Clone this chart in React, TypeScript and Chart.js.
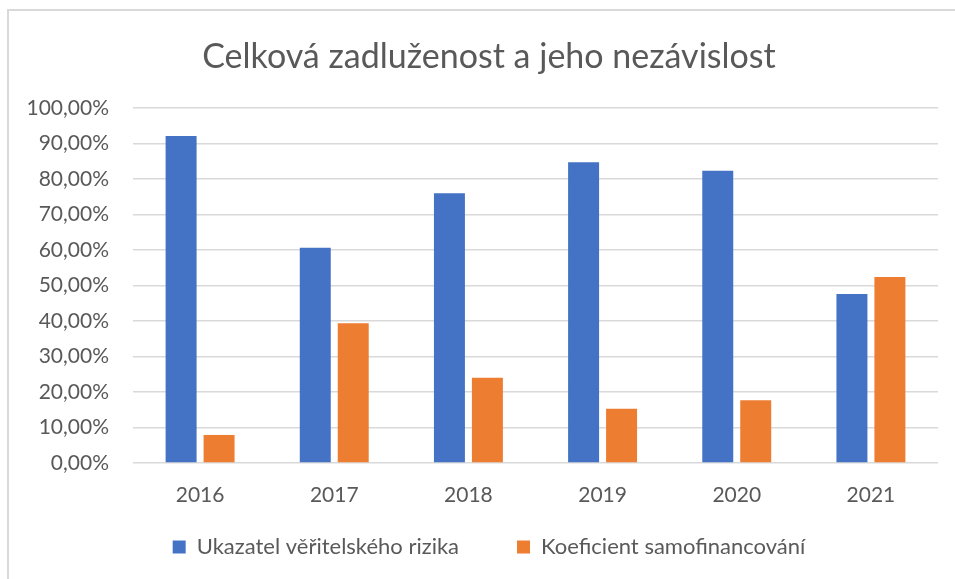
import React, { useEffect, useRef } from "react";
import { Chart, registerables } from "chart.js";

Chart.register(...registerables);

const title = "Celková zadluženost a jeho nezávislost";
const categories = ["2016", "2017", "2018", "2019", "2020", "2021"];
const seriesNames = ["Ukazatel věřitelského rizika", "Koeficient samofinancování"];
const creditorRisk = [92.1, 60.6, 76.0, 84.7, 82.3, 47.6];
const selfFinancing = [7.9, 39.4, 24.0, 15.3, 17.7, 52.4];
const colors = ["#4472C4", "#ED7D31"];

const FONT = "Lato, 'Open Sans', sans-serif";
const TEXT = "#595959";
const GRID = "#d9d9d9";

// let tick labels draw outside their (deliberately narrow) axis boxes
const noLabelClip = (scale: any) => {
  scale._computeLabelArea = () => undefined;
};

export default function App() {
  const ref = useRef<HTMLCanvasElement | null>(null);

  useEffect(() => {
    if (!ref.current) return;
    const chart = new Chart(ref.current, {
      type: "bar",
      data: {
        labels: categories,
        datasets: [
          {
            label: seriesNames[0],
            data: creditorRisk,
            backgroundColor: colors[0],
            barPercentage: 0.816,
            categoryPercentage: 0.566,
          },
          {
            label: seriesNames[1],
            data: selfFinancing,
            backgroundColor: colors[1],
            barPercentage: 0.816,
            categoryPercentage: 0.566,
          },
        ],
      },
      options: {
        responsive: false,
        animation: false,
        layout: { padding: { top: 0, right: 17, bottom: 11, left: 40 } },
        plugins: {
          title: {
            display: true,
            text: title,
            color: TEXT,
            font: { family: FONT, size: 34, weight: "normal" },
            padding: { top: 36.6, bottom: 30.6 },
          },
          legend: {
            position: "bottom",
            labels: {
              color: TEXT,
              font: { family: FONT, size: 22 },
              boxWidth: 13,
              boxHeight: 13,
              padding: 58,
            },
          },
          tooltip: { enabled: false },
        },
        scales: {
          x: {
            grid: { display: false, drawTicks: false },
            border: { display: false },
            ticks: {
              color: TEXT,
              font: { family: FONT, size: 21 },
              padding: 19.4,
            },
            afterFit: (scale: any) => {
              scale.height = 15;
              noLabelClip(scale);
            },
          },
          y: {
            min: 0,
            max: 100,
            grid: { color: GRID, lineWidth: 1.5, drawTicks: false },
            border: { display: false },
            ticks: {
              stepSize: 10,
              color: TEXT,
              font: { family: FONT, size: 21 },
              padding: 24,
              callback: (v: any) => Number(v).toFixed(2).replace(".", ",") + "%",
            },
            afterFit: (scale: any) => {
              scale.width = 93;
              noLabelClip(scale);
            },
          },
        },
      },
    });
    return () => chart.destroy();
  }, []);

  return (
    <div style={{ position: "absolute", left: 0, top: 0, width: 955, height: 579, overflow: "hidden", background: "#fff" }}>
      <div
        style={{
          position: "absolute",
          left: 7,
          top: 9,
          width: 1000,
          height: 700,
          borderLeft: "2px solid #d9d9d9",
          borderTop: "2px solid #d9d9d9",
        }}
      />
      <canvas ref={ref} width={955} height={579} style={{ position: "absolute", left: 0, top: 0 }} />
    </div>
  );
}
